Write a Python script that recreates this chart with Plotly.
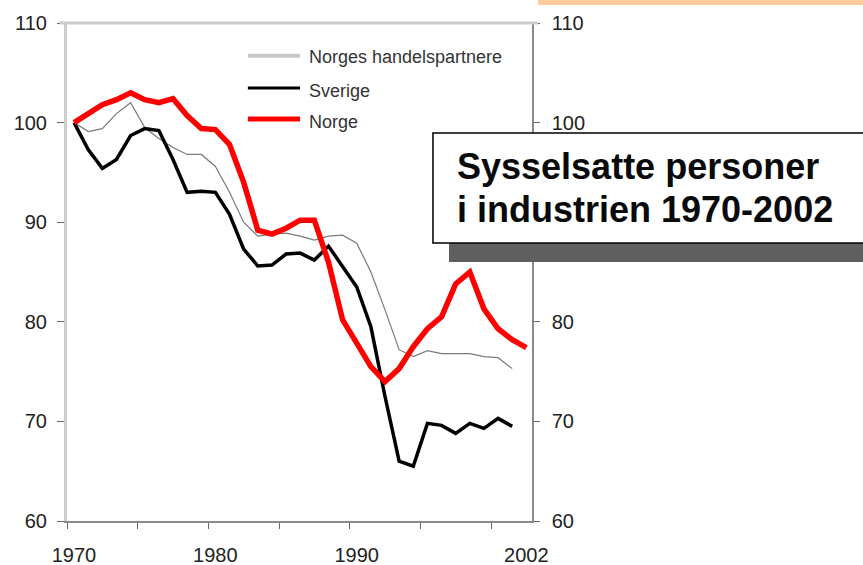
import plotly.graph_objects as go

# ---- data (annual values, index 1970 = 100) ----
years_sverige = list(range(1970, 2002))
years_norge = list(range(1970, 2003))

norge = [100.0, 100.9, 101.8, 102.3, 103.0, 102.3, 102.0, 102.4, 100.7, 99.4,
         99.3, 97.8, 94.0, 89.2, 88.8, 89.4, 90.2, 90.2, 86.0, 80.2,
         77.8, 75.5, 74.0, 75.3, 77.5, 79.3, 80.5, 83.8, 85.0, 81.3,
         79.3, 78.2, 77.4]

sverige = [100.0, 97.3, 95.4, 96.3, 98.7, 99.4, 99.2, 96.3, 93.0, 93.1,
           93.0, 90.8, 87.3, 85.6, 85.7, 86.8, 86.9, 86.2, 87.6, 85.6,
           83.5, 79.5, 72.5, 66.0, 65.5, 69.8, 69.6, 68.8, 69.8, 69.3,
           70.3, 69.5]

partnere = [100.0, 99.1, 99.4, 100.9, 102.0, 99.5, 98.4, 97.5, 96.8, 96.8,
            95.6, 93.0, 90.0, 88.6, 88.8, 88.9, 88.6, 88.2, 88.6, 88.7,
            87.9, 85.0, 81.2, 77.2, 76.5, 77.1, 76.8, 76.8, 76.8, 76.5,
            76.4, 75.3]

y_ticks = [60, 70, 80, 90, 100, 110]
y_right_labels = ["60", "70", "80", "", "100", "110"]  # 90 is hidden behind the title box
x_minor_ticks = [1970, 1975, 1980, 1985, 1990, 1995, 2000]
x_label_years = [1970, 1980, 1990, 2002]
legend_names = ["Norges handelspartnere", "Sverige", "Norge"]
title_lines = ["Sysselsatte personer", "i industrien 1970-2002"]

# annual averages plotted at mid-year
def mid(ys):
    return [y + 0.5 for y in ys]

fig = go.Figure()
fig.add_trace(go.Scatter(x=mid(years_sverige), y=partnere, mode="lines",
                         line=dict(color="#7a7a7a", width=1.2), showlegend=False))
fig.add_trace(go.Scatter(x=mid(years_sverige), y=sverige, mode="lines",
                         line=dict(color="#000000", width=3.5), showlegend=False))
fig.add_trace(go.Scatter(x=mid(years_norge), y=norge, mode="lines",
                         line=dict(color="#ff0000", width=5.5), showlegend=False))
# invisible trace to activate overlay axes
fig.add_trace(go.Scatter(x=[1970], y=[60], xaxis="x2", yaxis="y2", mode="markers",
                         marker=dict(opacity=0), showlegend=False, hoverinfo="skip"))

XR = [1970, 2002.9]
YR = [60, 110]
tickfont = dict(family="Liberation Sans, Arial", size=20, color="#222222")

fig.update_layout(
    template="none",
    width=863, height=565,
    margin=dict(l=67, r=331, t=23, b=44, autoexpand=False),
    paper_bgcolor="white", plot_bgcolor="white",
    xaxis=dict(range=XR, showgrid=False, zeroline=False, automargin=False,
               showline=True, linecolor="#8a8a8a", linewidth=2,
               tickvals=x_minor_ticks, ticks="outside", ticklen=6, tickwidth=1,
               tickcolor="#666666", showticklabels=False),
    xaxis2=dict(range=XR, overlaying="x", side="bottom", showgrid=False,
                zeroline=False, showline=False, tickvals=x_label_years,
                ticks="", tickfont=tickfont, ticklabelshift=7, automargin=False,
                ticklabelstandoff=20),
    yaxis=dict(range=YR, showgrid=False, zeroline=False, automargin=False,
               showline=True, linecolor="#cccccc", linewidth=3,
               tickvals=y_ticks, ticks="outside", ticklen=7, tickwidth=1,
               tickcolor="#666666", tickfont=tickfont, ticklabelstandoff=6),
    yaxis2=dict(range=YR, overlaying="y", side="right", showgrid=False,
                zeroline=False, showline=True, linecolor="#8a8a8a", linewidth=1.5,
                tickvals=y_ticks, ticktext=y_right_labels, ticks="outside",
                ticklen=6, tickwidth=1, automargin=False,
                tickcolor="#666666", tickfont=tickfont, ticklabelstandoff=8),
    showlegend=False,
)

shapes = []
# top frame line (light grey)
shapes.append(dict(type="line", xref="paper", yref="paper", x0=-0.016, x1=1.013,
                   y0=1, y1=1, line=dict(color="#cccccc", width=3)))
# legend lines
leg_colors = ["#c8c8c8", "#000000", "#ff0000"]
leg_widths = [4, 3, 5]
leg_y = [0.934, 0.8695, 0.807]
for c, w, yy in zip(leg_colors, leg_widths, leg_y):
    shapes.append(dict(type="line", xref="paper", yref="paper", x0=0.389, x1=0.501,
                       y0=yy, y1=yy, line=dict(color=c, width=w)))
# orange bar at top right
shapes.append(dict(type="rect", xref="paper", yref="paper", x0=1.013, x1=1.75,
                   y0=1.036, y1=1.06, fillcolor="#ffcc99", line=dict(width=0)))
# title box shadow and box
shapes.append(dict(type="rect", xref="paper", yref="paper", x0=0.8215, x1=1.75,
                   y0=0.520, y1=0.560, fillcolor="#5f5f5f", line=dict(width=0),
                   layer="above"))
shapes.append(dict(type="rect", xref="paper", yref="paper", x0=0.787, x1=1.75,
                   y0=0.558, y1=0.779, fillcolor="white",
                   line=dict(color="black", width=1.5), layer="above"))
fig.update_layout(shapes=shapes)

annotations = []
leg_text_y = [0.932, 0.864, 0.801]
for name, yy in zip(legend_names, leg_text_y):
    annotations.append(dict(xref="paper", yref="paper", x=0.516, y=yy, text=name,
                            showarrow=False, xanchor="left", yanchor="middle",
                            font=dict(family="Liberation Sans, Arial", size=18,
                                      color="#333333")))
title_y = [0.711, 0.625]
for line, yy in zip(title_lines, title_y):
    annotations.append(dict(xref="paper", yref="paper", x=0.834, y=yy,
                            text="<b>" + line + "</b>", showarrow=False,
                            xanchor="left", yanchor="middle", align="left",
                            font=dict(family="Liberation Sans, Arial", size=36,
                                      color="#0a0a0a")))
fig.update_layout(annotations=annotations)

fig.write_html("out.html",
               config={"displayModeBar": False},
               post_script="document.body.style.margin='0';"
                           "document.body.style.overflow='hidden';")
